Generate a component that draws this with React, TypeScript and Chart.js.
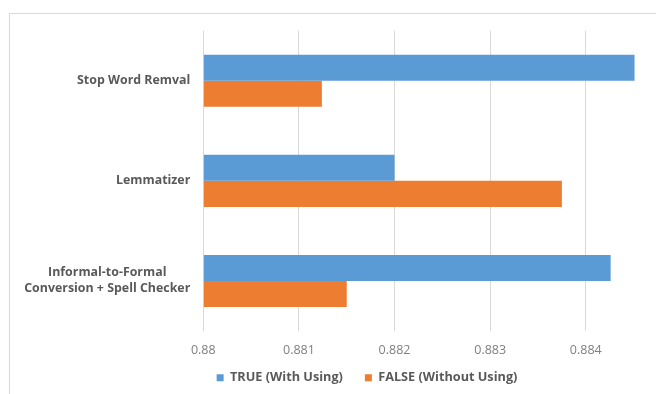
import React, { useEffect, useRef } from "react";
import { Chart, registerables } from "chart.js";

Chart.register(...registerables);

// ---- data ----
const categories: string[][] = [
  ["Stop Word Remval"],
  ["Lemmatizer"],
  ["Informal-to-Formal", "Conversion + Spell Checker"],
];
const seriesNames = ["TRUE (With Using)", "FALSE (Without Using)"];
const trueValues = [0.88451, 0.882, 0.88426];
const falseValues = [0.88124, 0.88375, 0.8815];
const xTicks = [0.88, 0.881, 0.882, 0.883, 0.884, 0.885];
const xMin = 0.88;
const xMax = 0.88555;

const BLUE = "#5B9BD5";
const ORANGE = "#ED7D31";

const LEGEND_SHIFT = 10;

const yLabelPlugin = {
  id: "yLabelsBlock",
  afterDraw(chart: any) {
    const scale = chart.scales.y;
    const ctx = chart.ctx;
    ctx.save();
    ctx.font = 'bold 12.4px "Open Sans"';
    ctx.fillStyle = "#595959";
    ctx.textAlign = "center";
    ctx.textBaseline = "middle";
    const right = scale.right - 13;
    categories.forEach((lines, i) => {
      const y = scale.getPixelForTick(i);
      const w = Math.max(...lines.map((l) => ctx.measureText(l).width));
      const cx = right - w / 2;
      lines.forEach((l, j) => {
        ctx.fillText(l, cx, y + (j - (lines.length - 1) / 2) * 16);
      });
    });
    ctx.restore();
  },
};

const legendShiftPlugin = {
  id: "legendShift",
  afterLayout(chart: any) {
    const lg = chart.legend;
    if (lg) {
      lg.top -= LEGEND_SHIFT;
      lg.bottom -= LEGEND_SHIFT;
    }
  },
};

export default function App() {
  const ref = useRef<HTMLCanvasElement>(null);
  useEffect(() => {
    if (!ref.current) return;
    const chart = new Chart(ref.current, {
      type: "bar",
      data: {
        labels: categories.map((c) => c.join(" ")),
        datasets: [
          {
            label: seriesNames[0],
            data: trueValues,
            backgroundColor: BLUE,
            borderWidth: 0,
            base: xMin,
            categoryPercentage: 0.52,
            barPercentage: 1,
          } as any,
          {
            label: seriesNames[1],
            data: falseValues,
            backgroundColor: ORANGE,
            borderWidth: 0,
            base: xMin,
            categoryPercentage: 0.52,
            barPercentage: 1,
          } as any,
        ],
      },
      options: {
        indexAxis: "y",
        responsive: false,
        animation: false,
        layout: { padding: { top: 30.7, left: 0, right: 0, bottom: -LEGEND_SHIFT } },
        scales: {
          x: {
            min: xMin,
            max: xMax,
            afterBuildTicks: (s: any) => {
              s.ticks = xTicks.map((v) => ({ value: v }));
            },
            afterFit: (s: any) => {
              s.height = 28.3;
            },
            grid: { color: "#d9d9d9", drawTicks: false, lineWidth: 1 },
            border: { display: false },
            ticks: {
              padding: 12,
              color: "#7f7f7f",
              font: { family: "Open Sans", size: 12.5 },
              maxRotation: 0,
              callback: (v: any) => String(+Number(v).toFixed(6)),
            },
          },
          y: {
            afterFit: (s: any) => {
              s.width = 203.3;
            },
            grid: { display: false },
            border: { display: false },
            ticks: { display: false },
          },
        },
        plugins: {
          legend: {
            position: "bottom",
            labels: {
              boxWidth: 7,
              boxHeight: 7,
              padding: 22,
              color: "#595959",
              font: { family: "Open Sans", size: 12.7, weight: "bold" },
            },
          },
          tooltip: { enabled: false },
        },
      } as any,
      plugins: [yLabelPlugin, legendShiftPlugin],
    });
    return () => chart.destroy();
  }, []);

  return (
    <div
      style={{
        position: "absolute",
        left: 0,
        top: 0,
        width: 656,
        height: 394,
        overflow: "hidden",
        background: "#ffffff",
      }}
    >
      <div
        style={{
          position: "absolute",
          left: 9,
          top: 13,
          width: 800,
          height: 500,
          border: "1px solid #d9d9d9",
          boxShadow: "1px 1px 2px rgba(0,0,0,0.06)",
        }}
      />
      <canvas
        ref={ref}
        width={734}
        height={394}
        style={{ position: "absolute", left: 0, top: 0, display: "block" }}
      />
    </div>
  );
}
